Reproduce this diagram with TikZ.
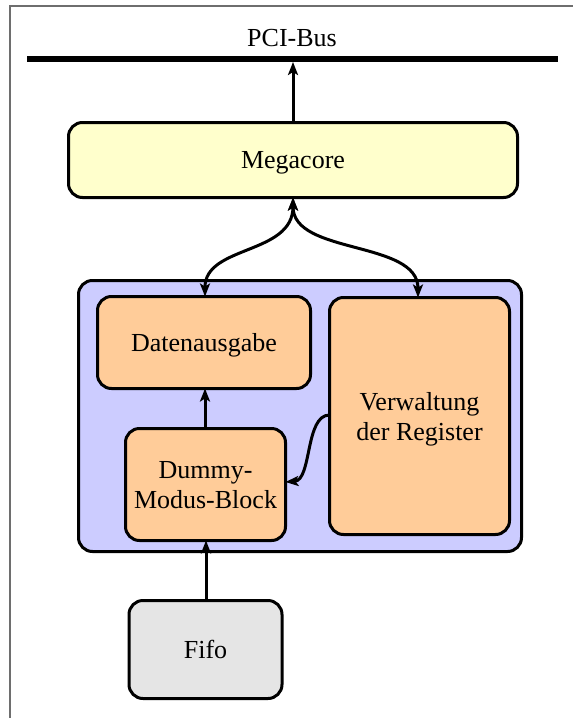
\documentclass[tikz,border=0pt]{standalone}
\usepackage{fontspec}
\setmainfont{Liberation Serif}
\usetikzlibrary{arrows.meta}

\definecolor{coreyellow}{HTML}{FFFFCC}
\definecolor{blockorange}{HTML}{FFCC99}
\definecolor{groupviolet}{HTML}{CCCCFF}
\definecolor{fifogray}{HTML}{E5E5E5}
\definecolor{framegray}{HTML}{6E6E6E}

\tikzset{
  block/.style={draw=black, line width=3pt, rounded corners=14pt, outer sep=0pt,
                inner sep=0pt, align=center, text depth=0pt,
                font=\fontsize{26}{30}\selectfont},
  flow/.style={line width=3pt, -{Stealth[length=13pt,width=10pt,inset=3pt]}},
  biflow/.style={line width=3pt, {Stealth[length=13pt,width=10pt,inset=3pt]}-{Stealth[length=13pt,width=10pt,inset=3pt]}},
  label/.style={font=\fontsize{26}{30}\selectfont, inner sep=0pt},
}

\begin{document}
\begin{tikzpicture}[x=1pt, y=-1pt]
  % canvas
  \useasboundingbox (0,0) rectangle (573,718);
  \fill[white] (0,0) rectangle (573,718);
  \draw[framegray, line width=2pt] (10,718) -- (10,6) -- (573,6);

  % PCI bus
  \node[label] (bus) at (292,38) {PCI-Bus};
  \coordinate (busL) at (27,59);
  \coordinate (busR) at (558,59);
  \draw[line width=6pt] (busL) -- (busR);
  \coordinate (busin) at (293,62);

  % megacore
  \node[block, fill=coreyellow, minimum width=449pt, minimum height=75pt] (mega) at (293,160) {Megacore};

  % functional group
  \node[block, fill=groupviolet, minimum width=443pt, minimum height=271pt] (group) at (300,416) {};
  \node[block, fill=blockorange, minimum width=213pt, minimum height=92pt] (daten) at (204,342.5) {Datenausgabe};
  \node[block, fill=blockorange, minimum width=180pt, minimum height=237pt] (verw) at (419.5,416) {Verwaltung\\der Register};
  \node[block, fill=blockorange, minimum width=160pt, minimum height=112pt] (dummy) at (205.5,484.5) {Dummy-\\Modus-Block};

  % fifo
  \node[block, fill=fifogray, minimum width=153pt, minimum height=98pt] (fifo) at (205.5,649.5) {Fifo};

  % connectors
  \draw[flow] (mega.north -| busin) -- (busin);
  \draw[biflow] (mega.south -| busin) .. controls (293,255) and (205,245) .. (daten.north -| 205,0);
  \draw[biflow] (mega.south -| busin) .. controls (293,255) and (418,240) .. (verw.north -| 418,0);
  \draw[flow] (dummy.north -| 205,0) -- (daten.south -| 205,0);
  \draw[flow] (verw.west |- 0,415) .. controls (305,415) and (312,480) .. (dummy.east |- 0,482);
  \draw[flow] (fifo.north -| 206,0) -- (dummy.south -| 206,0);
\end{tikzpicture}
\end{document}
